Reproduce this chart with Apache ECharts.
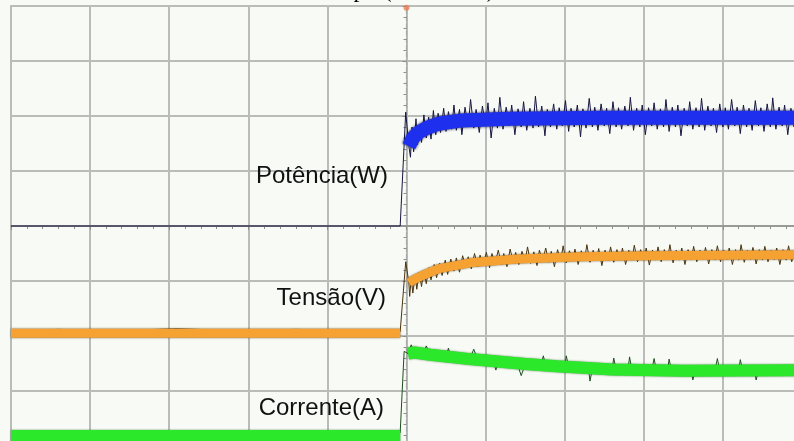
<!DOCTYPE html>
<html>
<head>
<meta charset="utf-8">
<script src="https://cdn.jsdelivr.net/npm/echarts@6/dist/echarts.min.js"></script>
<style>
html,body{margin:0;padding:0;background:#f8fbf5;}
#c{width:794px;height:441px;}
</style>
</head>
<body>
<div id="c"></div>
<script>
// ---- data (x in time divisions, y in vertical divisions) ----
var titleText = 'Tempo (50 ms/div)';
var traceLabels = ['Potência(W)', 'Tensão(V)', 'Corrente(A)'];
var triggerMark = [[5, 7.97]];

// Potência (blue)
var blueBand = [[5.03,5.45],[5.08,5.60],[5.15,5.70],[5.25,5.78],[5.4,5.86],[5.7,5.92],[6.3,5.95],[7.5,5.97],[8.5,5.97],[10,5.97]];
var blueTrace = [[0,4.0],[4.92,4.0],[4.99,6.07],[5.03,5.45],
 [5.05,5.25],[5.07,5.80],[5.09,5.35],[5.12,5.95],[5.14,5.48],[5.17,5.85],[5.19,5.52],[5.22,6.02],[5.25,5.60],[5.28,5.98],[5.31,5.58],[5.34,6.10],[5.37,5.66],[5.40,6.05],[5.43,5.70],[5.47,6.14],[5.50,5.72],[5.53,6.08],[5.57,5.76],[5.60,6.20],[5.63,5.74],[5.67,6.12],[5.70,5.66],[5.74,6.16],[5.78,5.80],[5.81,6.30],[5.85,5.78],[5.88,6.12],[5.92,5.70],[5.96,6.18],[6.00,5.82],[6.03,6.24],[6.07,5.60],[6.11,6.14],[6.15,5.78],[6.18,6.34],[6.22,5.76],[6.26,6.16],[6.30,5.82],[6.33,6.20],[6.37,5.66],[6.41,6.13],[6.45,5.80],[6.48,6.26],[6.52,5.74],[6.56,6.14],[6.60,5.78],[6.63,6.36],[6.67,5.80],[6.71,6.18],[6.75,5.64],[6.78,6.12],[6.82,5.80],[6.86,6.22],[6.90,5.76],[6.93,6.15],[6.97,5.82],[7.01,6.28],[7.05,5.72],[7.08,6.14],[7.12,5.80],[7.16,6.20],[7.20,5.62],[7.23,6.13],[7.27,5.78],[7.31,6.32],[7.35,5.80],[7.38,6.16],[7.42,5.74],[7.46,6.22],[7.50,5.82],[7.53,6.14],[7.57,5.68],[7.61,6.26],[7.65,5.80],[7.68,6.15],[7.72,5.76],[7.76,6.18],[7.80,5.82],[7.83,6.34],[7.87,5.74],[7.91,6.14],[7.95,5.80],[7.98,6.20],[8.02,5.66],[8.06,6.15],[8.10,5.82],[8.13,6.24],[8.17,5.76],[8.21,6.13],[8.25,5.80],[8.28,6.30],[8.32,5.72],[8.36,6.16],[8.40,5.80],[8.43,6.20],[8.47,5.64],[8.51,6.14],[8.55,5.82],[8.58,6.26],[8.62,5.76],[8.66,6.15],[8.70,5.80],[8.73,6.32],[8.77,5.74],[8.81,6.18],[8.85,5.82],[8.88,6.14],[8.92,5.70],[8.96,6.22],[9.00,5.80],[9.03,6.15],[9.07,5.76],[9.11,6.30],[9.15,5.82],[9.18,6.16],[9.22,5.68],[9.26,6.20],[9.30,5.80],[9.33,6.14],[9.37,5.74],[9.41,6.28],[9.45,5.82],[9.48,6.15],[9.52,5.72],[9.56,6.22],[9.60,5.80],[9.63,6.33],[9.67,5.76],[9.71,6.16],[9.75,5.82],[9.78,6.20],[9.82,5.66],[9.86,6.14],[9.90,5.80],[9.93,6.24],[9.97,5.78]];

// Tensão (orange)
var orangeBand = [[0,2.05],[4.92,2.05],null,[5.03,2.97],[5.1,3.03],[5.2,3.10],[5.4,3.22],[5.8,3.33],[6.4,3.40],[7.2,3.44],[8.0,3.46],[9.0,3.47],[10,3.48]];
var orangeTrace = [[0,2.10],[0.6,2.12],[1.3,2.10],[2.1,2.13],[2.9,2.10],[3.6,2.12],[4.4,2.10],[4.92,2.08],[4.99,3.35],[5.03,2.97],
 [5.04,2.72],[5.06,3.05],[5.08,2.78],[5.11,3.10],[5.13,2.85],[5.16,3.16],[5.19,2.90],[5.22,3.20],[5.25,2.95],[5.28,3.24],[5.31,3.02],[5.35,3.30],[5.38,3.06],[5.42,3.32],[5.45,3.10],[5.49,3.38],[5.52,3.12],[5.56,3.40],[5.60,3.18],[5.63,3.42],[5.67,3.16],[5.71,3.46],[5.75,3.24],[5.78,3.44],[5.82,3.22],[5.86,3.50],[5.90,3.26],[5.93,3.47],[5.97,3.30],[6.01,3.52],[6.05,3.24],[6.08,3.50],[6.12,3.32],[6.16,3.56],[6.20,3.30],[6.23,3.50],[6.27,3.26],[6.31,3.58],[6.35,3.34],[6.38,3.52],[6.42,3.30],[6.46,3.54],[6.50,3.36],[6.53,3.62],[6.57,3.32],[6.61,3.53],[6.65,3.28],[6.68,3.56],[6.72,3.36],[6.76,3.60],[6.80,3.34],[6.83,3.54],[6.87,3.26],[6.91,3.57],[6.95,3.36],[6.98,3.64],[7.02,3.33],[7.06,3.55],[7.10,3.37],[7.13,3.58],[7.17,3.30],[7.21,3.55],[7.25,3.37],[7.28,3.66],[7.32,3.34],[7.36,3.56],[7.40,3.38],[7.43,3.59],[7.47,3.28],[7.51,3.56],[7.55,3.37],[7.58,3.62],[7.62,3.34],[7.66,3.57],[7.70,3.38],[7.73,3.60],[7.77,3.30],[7.81,3.56],[7.85,3.38],[7.88,3.65],[7.92,3.35],[7.96,3.57],[8.00,3.38],[8.03,3.60],[8.07,3.29],[8.11,3.56],[8.15,3.38],[8.18,3.62],[8.22,3.35],[8.26,3.57],[8.30,3.39],[8.33,3.66],[8.37,3.33],[8.41,3.56],[8.45,3.38],[8.48,3.60],[8.52,3.30],[8.56,3.57],[8.60,3.38],[8.63,3.63],[8.67,3.35],[8.71,3.56],[8.75,3.39],[8.78,3.61],[8.82,3.31],[8.86,3.57],[8.90,3.38],[8.93,3.64],[8.97,3.35],[9.01,3.56],[9.05,3.39],[9.08,3.60],[9.12,3.30],[9.16,3.57],[9.20,3.38],[9.23,3.66],[9.27,3.34],[9.31,3.56],[9.35,3.39],[9.38,3.61],[9.42,3.31],[9.46,3.57],[9.50,3.38],[9.53,3.63],[9.57,3.35],[9.61,3.56],[9.65,3.39],[9.68,3.60],[9.72,3.30],[9.76,3.57],[9.80,3.38],[9.83,3.64],[9.87,3.35],[9.91,3.56],[9.95,3.39],[9.98,3.61]];

// Corrente (green)
var greenBand = [[0,0.18],[4.92,0.18],null,[5.02,1.68],[5.1,1.70],[5.3,1.66],[5.8,1.58],[6.5,1.49],[6.9,1.45],[7.6,1.39],[8.5,1.37],[10,1.38]];
var greenTrace = [[0,0.26],[1.0,0.27],[2.0,0.26],[3.0,0.27],[4.0,0.26],[4.92,0.24],[4.97,1.72],[5.02,1.68],
 [5.06,1.84],[5.10,1.70],[5.2,1.62],[5.25,1.82],[5.3,1.66],[5.5,1.62],[5.53,1.78],[5.56,1.61],[5.8,1.58],[5.85,1.76],[5.9,1.57],[6.1,1.54],[6.13,1.38],[6.16,1.54],[6.4,1.50],[6.45,1.28],[6.5,1.48],[6.7,1.47],[6.73,1.64],[6.76,1.46],[7.0,1.44],[7.02,1.64],[7.05,1.43],[7.3,1.41],[7.32,1.18],[7.35,1.41],[7.6,1.39],[7.62,1.60],[7.65,1.39],[7.8,1.38],[7.82,1.62],[7.85,1.38],[8.1,1.37],[8.13,1.59],[8.16,1.37],[8.3,1.37],[8.32,1.58],[8.35,1.37],[8.6,1.37],[8.62,1.20],[8.65,1.37],[8.9,1.37],[8.93,1.59],[8.96,1.37],[9.2,1.38],[9.22,1.57],[9.25,1.38],[9.4,1.38],[9.42,1.20],[9.45,1.38],[9.9,1.38]];

// ---- chart ----
var chart = echarts.init(document.getElementById('c'), null, {renderer:'canvas'});
function line(data, color, width, z, extra) {
  var s = {type:'line', data:data, xAxisIndex:0, yAxisIndex:0, symbol:'none', smooth:false, connectNulls:false,
    silent:true, z:z, lineStyle:{color:color, width:width}, animation:false};
  if (extra) for (var k in extra) s.lineStyle[k] = extra[k];
  return s;
}
var option = {
  backgroundColor:'#f8fbf5',
  animation:false,
  grid:[
    {left:11, top:6, width:791, height:440, outerBoundsMode:'none', containLabel:false, show:true, borderColor:'#9a9e9a', borderWidth:1.5, backgroundColor:'transparent'},
    {left:11, top:6, width:791, height:440, outerBoundsMode:'none', containLabel:false}
  ],
  xAxis:[
    {type:'value', gridIndex:0, min:0, max:10, interval:1, axisLabel:{show:false}, axisTick:{show:false}, axisLine:{show:false},
     splitLine:{show:true, lineStyle:{color:'#b9bcb9', width:2}}},
    {type:'value', gridIndex:1, min:-5, max:5, interval:1, axisLabel:{show:false}, splitLine:{show:false},
     axisLine:{show:true, onZero:true, lineStyle:{color:'#8c8f8c', width:1.5}},
     axisTick:{show:true, length:4, lineStyle:{color:'#8c8f8c'}},
     minorTick:{show:true, splitNumber:5, length:3, lineStyle:{color:'#8c8f8c'}}}
  ],
  yAxis:[
    {type:'value', gridIndex:0, min:0, max:8, interval:1, axisLabel:{show:false}, axisTick:{show:false}, axisLine:{show:false},
     splitLine:{show:true, lineStyle:{color:'#b9bcb9', width:2}}},
    {type:'value', gridIndex:1, min:-4, max:4, interval:1, axisLabel:{show:false}, splitLine:{show:false},
     axisLine:{show:true, onZero:true, lineStyle:{color:'#a8aaa8', width:1.2, type:'dashed'}},
     axisTick:{show:true, length:4, lineStyle:{color:'#8c8f8c'}},
     minorTick:{show:true, splitNumber:5, length:3, lineStyle:{color:'#8c8f8c'}}}
  ],
  series:[
    line(blueTrace, '#151540', 1, 3),
    line(blueBand, '#1e30ee', 14, 4, {shadowColor:'rgba(15,15,60,0.9)', shadowBlur:3}),
    line(orangeTrace, '#4a3310', 1, 3),
    line(orangeBand, '#f6a232', 9, 4, {shadowColor:'rgba(70,45,10,0.8)', shadowBlur:2}),
    line(greenTrace, '#1f4f1f', 1, 3),
    line(greenBand, '#2be82b', 12, 4, {shadowColor:'rgba(20,80,20,0.7)', shadowBlur:2}),
    {type:'scatter', data:triggerMark, xAxisIndex:0, yAxisIndex:0, symbol:'circle', symbolSize:6, z:6, silent:true,
     itemStyle:{color:'#e8805a'}}
  ],
  graphic:[
    {type:'text', x:403, y:-9, z:100, style:{text:titleText, font:'24px "Liberation Serif", "DejaVu Serif", serif', fill:'#000', align:'center', verticalAlign:'middle'}},
    {type:'text', x:388, y:176, z:100, style:{text:traceLabels[0], font:'24px "Liberation Sans", Arial, sans-serif', fill:'#111', align:'right', verticalAlign:'middle'}},
    {type:'text', x:386, y:298, z:100, style:{text:traceLabels[1], font:'24px "Liberation Sans", Arial, sans-serif', fill:'#111', align:'right', verticalAlign:'middle'}},
    {type:'text', x:384, y:408, z:100, style:{text:traceLabels[2], font:'24px "Liberation Sans", Arial, sans-serif', fill:'#111', align:'right', verticalAlign:'middle'}}
  ]
};
chart.setOption(option);
</script>
</body>
</html>
